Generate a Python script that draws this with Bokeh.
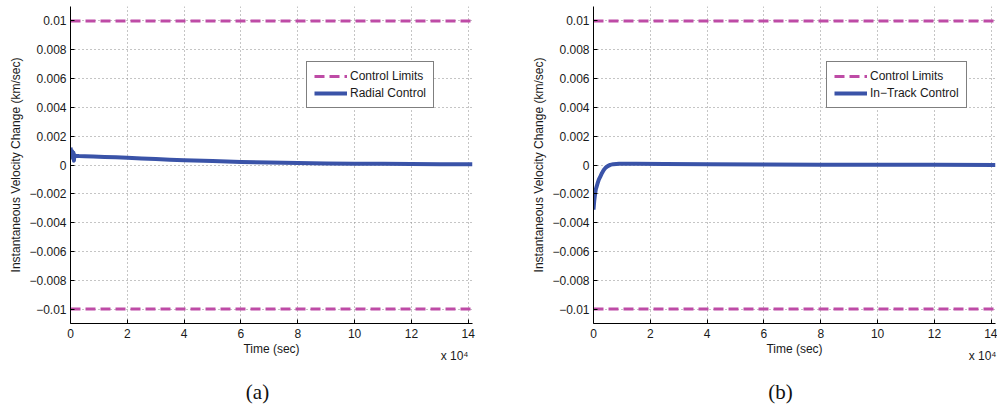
from bokeh.plotting import figure
from bokeh.layouts import row, column
from bokeh.models import Range1d, Legend, LegendItem, Title, Label
from bokeh.embed import file_html
from bokeh.resources import INLINE

# ---- data ----
time_radial = [0, 150, 300, 450, 600, 750, 900, 1050, 1200, 1400, 1700, 2000, 3000, 5000,
               8000, 12000, 16000, 20000, 25000, 30000, 35000, 40000, 50000, 60000, 70000,
               80000, 90000, 100000, 110000, 120000, 130000, 141500]
radial_dv = [0.00120, 0.00105, 0.00080, 0.00065, 0.00095, 0.00070, 0.00045, 0.00085, 0.00030,
             0.00070, 0.00062, 0.00063, 0.00062, 0.00061, 0.00059, 0.00056, 0.00053, 0.00050,
             0.00045, 0.00041, 0.00037, 0.00033, 0.00027, 0.00021, 0.00017, 0.00014, 0.00011,
             0.00009, 0.00008, 0.00007, 0.00006, 0.00005]

time_intrack = [0, 250, 500, 800, 1100, 1400, 1900, 2400, 3000, 3600, 4200, 5000, 5900, 7000,
                9000, 15000, 25000, 40000, 60000, 80000, 100000, 120000, 141500]
intrack_dv = [-0.0031, -0.0025, -0.0021, -0.0017, -0.0015, -0.0013, -0.0010, -0.0008, -0.00055,
              -0.00035, -0.0002, -0.00008, 0.00001, 0.00006, 0.00008, 0.00008, 0.00007, 0.00005,
              0.00003, 0.00002, 0.00001, 0.00001, 0.0]

limit_time = [0, 141500]
upper_limit = [0.01, 0.01]
lower_limit = [-0.01, -0.01]

x_ticks = [0, 20000, 40000, 60000, 80000, 100000, 120000, 140000]
x_tick_labels = ["0", "2", "4", "6", "8", "10", "12", "14"]
y_ticks = [-0.01, -0.008, -0.006, -0.004, -0.002, 0, 0.002, 0.004, 0.006, 0.008, 0.01]
y_tick_labels = ["\u22120.01", "\u22120.008", "\u22120.006", "\u22120.004", "\u22120.002", "0",
                 "0.002", "0.004", "0.006", "0.008", "0.01"]

limit_label = "Control Limits"
series_labels = ["Radial Control", "In\u2212Track Control"]
captions = ["(a)", "(b)"]
x_title = "Time (sec)"
x_multiplier = "x 10\u2074"
y_title = "Instantaneous Velocity Change (km/sec)"

LIMIT_COLOR = "#BE4BA6"
LINE_COLOR = "#3A53A8"
FONT = "Liberation Sans"
TEXT_COLOR = "#1a1a1a"

X_MAX = 141500
Y_MIN, Y_MAX = -0.011, 0.011
FRAME_W = 402
FIG_H = 379
CAP_H = 25
LEFT = 70


def make_panel(times, values, series_label, border_right, legend_x, mult_offset):
    p = figure(width=LEFT + FRAME_W + border_right, height=FIG_H, output_backend="svg",
               toolbar_location=None,
               x_range=Range1d(0, X_MAX), y_range=Range1d(Y_MIN, Y_MAX),
               min_border_left=LEFT, min_border_right=border_right,
               min_border_top=6, min_border_bottom=56)
    p.outline_line_color = None
    p.background_fill_color = "white"
    p.border_fill_color = "white"

    # grid
    p.xgrid.ticker = x_ticks
    p.ygrid.ticker = y_ticks
    for g in (p.xgrid, p.ygrid):
        g.grid_line_color = "#8a8a8a"
        g.grid_line_dash = "1 3"
        g.grid_line_width = 1

    # axes
    p.xaxis.ticker = x_ticks
    p.yaxis.ticker = y_ticks
    p.xaxis.major_label_overrides = {float(t): l for t, l in zip(x_ticks, x_tick_labels)}
    p.yaxis.major_label_overrides = {float(t): l for t, l in zip(y_ticks, y_tick_labels)}
    for ax in (p.xaxis, p.yaxis):
        ax.axis_line_color = "black"
        ax.axis_line_width = 1
        ax.major_tick_in = 4
        ax.major_tick_out = 0
        ax.major_tick_line_color = "black"
        ax.minor_tick_in = 0
        ax.minor_tick_out = 0
        ax.major_label_text_font = FONT
        ax.major_label_text_font_size = "12px"
        ax.major_label_text_color = TEXT_COLOR
        ax.axis_label_text_font = FONT
        ax.axis_label_text_font_size = "12px"
        ax.axis_label_text_font_style = "normal"
        ax.axis_label_text_color = TEXT_COLOR
    p.xaxis.axis_label = x_title
    p.yaxis.axis_label = y_title
    p.xaxis.major_label_standoff = 5
    p.xaxis.axis_label_standoff = 1
    p.yaxis.major_label_standoff = 4
    p.yaxis.axis_label_standoff = 3

    # lines
    r_up = p.line(limit_time, upper_limit, line_color=LIMIT_COLOR, line_width=3, line_dash="10 5")
    p.line(limit_time, lower_limit, line_color=LIMIT_COLOR, line_width=3, line_dash="10 5")
    r_ser = p.line(times, values, line_color=LINE_COLOR, line_width=4, line_join="round")

    legend = Legend(items=[LegendItem(label=limit_label, renderers=[r_up]),
                           LegendItem(label=series_label, renderers=[r_ser])],
                    location=(legend_x, 215))
    legend.label_text_font = FONT
    legend.label_text_font_size = "12px"
    legend.label_text_color = TEXT_COLOR
    legend.label_text_baseline = "middle"
    legend.glyph_width = 33
    legend.glyph_height = 12
    legend.label_height = 12
    legend.label_standoff = 3
    legend.padding = 7
    legend.spacing = 3
    legend.margin = 0
    legend.border_line_color = "black"
    legend.border_line_width = 1
    legend.background_fill_color = "white"
    legend.background_fill_alpha = 1.0
    p.add_layout(legend)

    # x 10^4 multiplier just right-below the x axis
    mult = Title(text=x_multiplier, align="right", vertical_align="top",
                 offset=mult_offset, standoff=-20,
                 text_font=FONT, text_font_size="12px", text_font_style="normal",
                 text_color=TEXT_COLOR)
    p.add_layout(mult, "below")
    return p


def make_caption(text, width, center_x):
    c = figure(width=width, height=CAP_H, output_backend="svg", toolbar_location=None,
               x_axis_type=None, y_axis_type=None, min_border=0,
               x_range=Range1d(0, width), y_range=Range1d(0, CAP_H))
    c.outline_line_color = None
    c.xgrid.visible = False
    c.ygrid.visible = False
    c.add_layout(Label(x=center_x, y=CAP_H / 2, x_units="screen", y_units="screen", text=text,
                       text_align="center", text_baseline="middle",
                       text_font="Liberation Serif", text_font_size="21px",
                       text_color="#111111"))
    return c


p1 = make_panel(time_radial, radial_dv, series_labels[0], 51, 236, 4)
p2 = make_panel(time_intrack, intrack_dv, series_labels[1], 2, 233, -1)
c1 = make_caption(captions[0], p1.width, 257)
c2 = make_caption(captions[1], p2.width, 257)
layout = column(row(p1, p2), row(c1, c2))

open("out.html", "w").write(file_html(layout, INLINE))
